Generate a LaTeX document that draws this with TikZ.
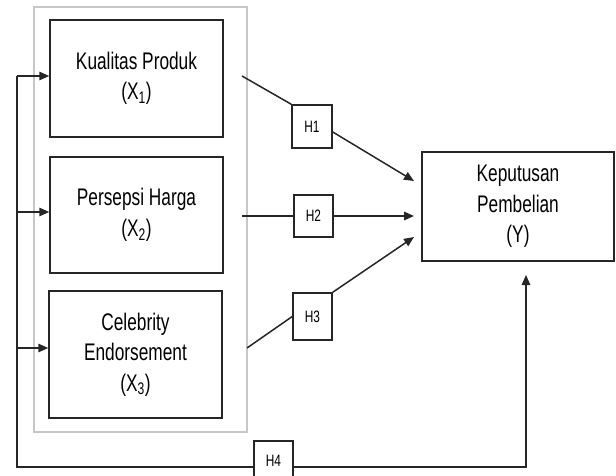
\documentclass[tikz,border=0pt]{standalone}
\usepackage{fontspec}
\setmainfont{Liberation Sans}[FakeStretch=0.72]
\usetikzlibrary{arrows.meta,calc}
\begin{document}
\begin{tikzpicture}[x=1pt,y=-1pt,
  varbox/.style={draw=black!85, line width=1.5pt, align=center, inner sep=0pt,
    font=\fontsize{24}{30.5}\selectfont, text=black},
  hbox/.style={draw=black!85, line width=1.5pt, inner sep=0pt,
    font=\fontsize{16.5}{18}\selectfont, text=black},
  conn/.style={draw=black!85, line width=1.5pt},
  arr/.style={conn, -{Triangle[length=10pt,width=8.5pt]}},
]
\useasboundingbox (0,0) rectangle (616,476);
% group frame
\node[draw=black!22, line width=1.3pt, minimum width=213pt, minimum height=425pt, inner sep=0pt] (grp) at (140.5,219.5) {};
% variable boxes
\node[varbox, minimum width=173pt, minimum height=117pt] (x1) at (136.5,78.5) {Kualitas Produk\\(X\textsubscript{1})};
\node[varbox, minimum width=173pt, minimum height=116pt] (x2) at (136.5,215) {Persepsi Harga\\(X\textsubscript{2})};
\node[varbox, minimum width=173pt, minimum height=127pt] (x3) at (135.5,354.5) {Celebrity\\Endorsement\\(X\textsubscript{3})};
\node[varbox, minimum width=192pt, minimum height=109pt] (y) at (518,206.5) {Keputusan\\Pembelian\\(Y)};
% hypothesis boxes
\node[hbox, minimum width=40pt, minimum height=43pt] (h1) at (312,126.5) {H1};
\node[hbox, minimum width=39pt, minimum height=42pt] (h2) at (313.5,216) {H2};
\node[hbox, minimum width=39pt, minimum height=47pt] (h3) at (312.5,316.5) {H3};
\node[hbox, minimum width=39pt, minimum height=40pt] (h4) at (273.5,461) {H4};
% coordinates
\coordinate (s1) at (242,76);
\coordinate (s2) at (242,216);
\coordinate (s3) at (247,348);
\coordinate (t1) at (414,181);
\coordinate (t2) at (414,216);
\coordinate (t3) at (414,237);
\coordinate (t4) at (526,275);
\coordinate (tb) at (17,467);
\coordinate (a1) at ([yshift=2.5pt]x1.west);
\coordinate (a2) at ([yshift=3pt]x2.west);
\coordinate (a3) at ([yshift=6.5pt]x3.west);
% hypothesis paths
\draw[conn] (s1) -- (h1.north west);
\draw[arr] ([yshift=-5.5pt]h1.east) -- (t1);
\draw[conn] (s2) -- (h2.west);
\draw[arr] (h2.east) -- (t2);
\draw[conn] (s3) -- (h3.west);
\draw[arr] (h3.north east) -- (t3);
% trunk
\draw[conn] (a1 -| tb) -- (tb) -- (h4.west |- tb);
\draw[arr] (a1 -| tb) -- (a1);
\draw[arr] (a2 -| tb) -- (a2);
\draw[arr] (a3 -| tb) -- (a3);
\draw[arr] (h4.east |- tb) -| (t4);
\end{tikzpicture}
\end{document}
